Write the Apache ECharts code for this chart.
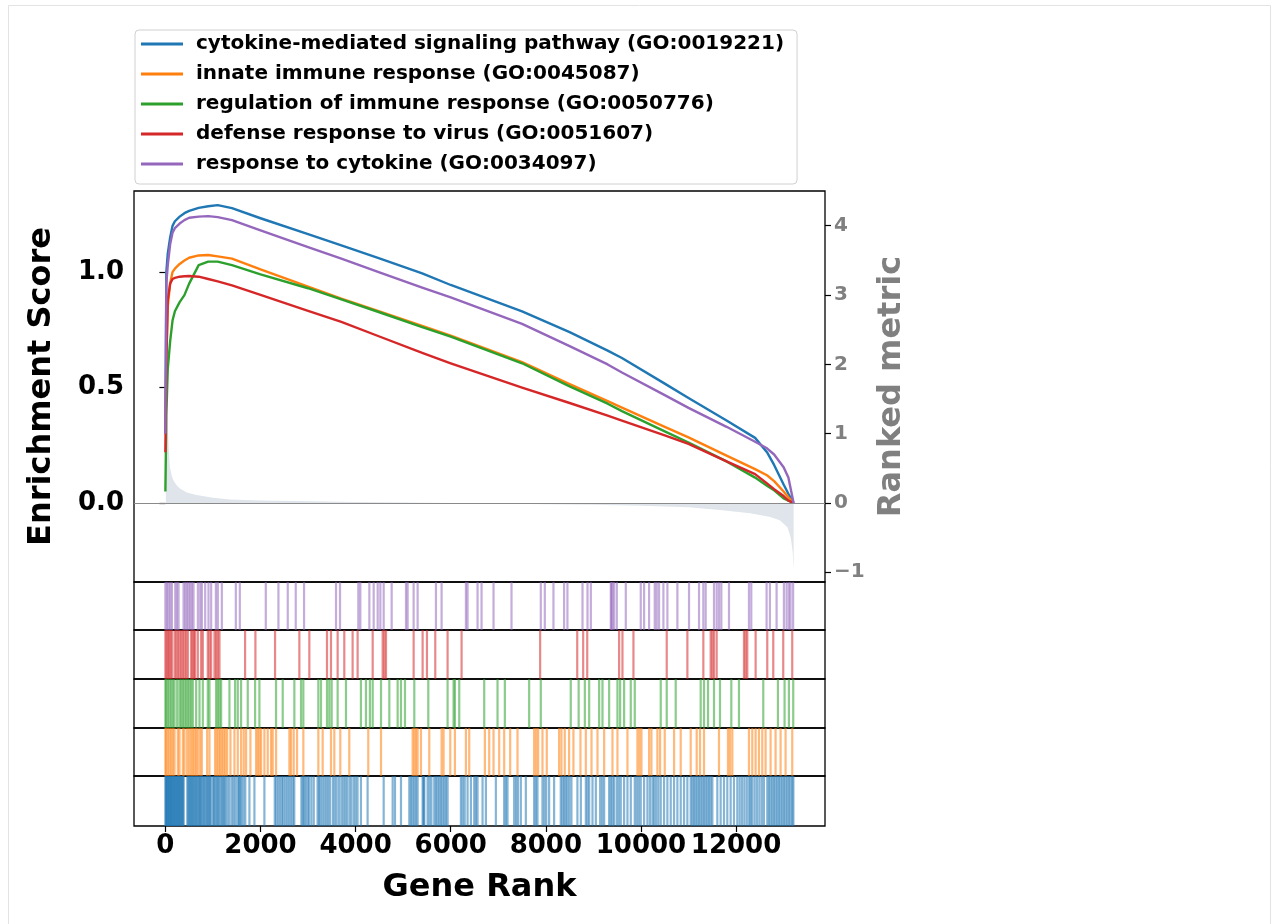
<!DOCTYPE html>
<html>
<head>
<meta charset="utf-8">
<script src="https://cdn.jsdelivr.net/npm/echarts@6/dist/echarts.min.js"></script>
<style>
  html, body { margin: 0; padding: 0; background: #fff; }
  #chart { width: 1275px; height: 924px; }
</style>
</head>
<body>
<div id="chart"></div>
<script>
// gene set names (legend order)
const termNames = [
  'cytokine-mediated signaling pathway (GO:0019221)',
  'innate immune response (GO:0045087)',
  'regulation of immune response (GO:0050776)',
  'defense response to virus (GO:0051607)',
  'response to cytokine (GO:0034097)'
];
const termColors = ['#1f77b4', '#ff7f0e', '#2ca02c', '#d62728', '#9467bd'];

// running enrichment score, sampled at these gene ranks
const esRanks = [0, 20, 50, 100, 150, 200, 300, 400, 500, 700, 900, 1100, 1400, 2000, 3000, 3700,
  4500, 5400, 6000, 7500, 8500, 9300, 9600, 10500, 11000, 11800, 12400, 12650, 12800, 13000, 13100, 13210];
const esCytokineSignaling = [0.3, 1.0, 1.08, 1.15, 1.2, 1.22, 1.24, 1.255, 1.265, 1.278, 1.285, 1.29, 1.277, 1.233, 1.164, 1.116,
  1.059, 0.994, 0.944, 0.83, 0.74, 0.66, 0.628, 0.517, 0.455, 0.357, 0.282, 0.22, 0.165, 0.08, 0.04, 0.0];
const esInnateImmune = [0.3, 0.65, 0.85, 0.95, 1.0, 1.015, 1.035, 1.05, 1.062, 1.072, 1.074, 1.068, 1.058, 1.012, 0.937, 0.885,
  0.83, 0.767, 0.725, 0.61, 0.515, 0.441, 0.413, 0.33, 0.284, 0.205, 0.147, 0.12, 0.095, 0.05, 0.025, 0.0];
const esRegulationImmune = [0.05, 0.38, 0.58, 0.7, 0.79, 0.83, 0.87, 0.9, 0.95, 1.03, 1.045, 1.045, 1.03, 0.99, 0.93, 0.882,
  0.826, 0.762, 0.72, 0.605, 0.505, 0.43, 0.398, 0.31, 0.262, 0.18, 0.11, 0.075, 0.055, 0.02, 0.01, 0.0];
const esDefenseVirus = [0.22, 0.6, 0.88, 0.95, 0.97, 0.975, 0.98, 0.982, 0.983, 0.98, 0.97, 0.96, 0.942, 0.901, 0.832, 0.784,
  0.721, 0.65, 0.605, 0.5, 0.433, 0.378, 0.357, 0.293, 0.256, 0.18, 0.125, 0.085, 0.06, 0.03, 0.01, 0.0];
const esResponseCytokine = [0.3, 0.95, 1.03, 1.12, 1.17, 1.19, 1.21, 1.225, 1.235, 1.24, 1.242, 1.238, 1.225, 1.18, 1.108, 1.058,
  0.999, 0.933, 0.89, 0.776, 0.679, 0.6, 0.565, 0.467, 0.412, 0.33, 0.265, 0.237, 0.21, 0.155, 0.11, 0.0];

// ranked metric
const metricRanks = [0, 10, 25, 45, 70, 95, 130, 165, 230, 305, 450, 655, 1000, 1355, 2000, 3000, 4000, 5000, 6000,
  7000, 8000, 9000, 10000, 11000, 11660, 12300, 12700, 12920, 13080, 13150, 13190, 13210];
const metricValues = [3.36, 2.6, 1.8, 1.2, 0.8, 0.52, 0.4, 0.33, 0.26, 0.21, 0.15, 0.115, 0.075, 0.05, 0.035, 0.025, 0.015, 0.008, 0.0,
  -0.008, -0.017, -0.027, -0.04, -0.06, -0.1, -0.15, -0.2, -0.25, -0.35, -0.5, -0.7, -0.97];

// hit positions (gene ranks) of each gene set
const hitsCytokineSignaling = [0, 10, 20, 35, 50, 62, 75, 90, 105, 118, 130, 145, 160, 175, 190, 205, 220, 235, 250, 265, 280, 295,
  310, 325, 340, 355, 370, 385, 460, 480, 500, 520, 540, 560, 580, 600, 625, 645, 665, 690, 710, 730, 750, 775, 800, 820, 845,
  870, 890, 915, 935, 960, 1000, 1025, 1050, 1080, 1100, 1130, 1160, 1190, 1220, 1240, 1270, 1310, 1350, 1400, 1440, 1480,
  1525, 1550, 1575, 1600, 1640, 1680, 1767, 1872, 2082, 2300, 2330, 2370, 2410, 2450, 2480, 2520, 2560, 2600, 2640, 2680,
  2710, 2860, 2890, 2920, 2950, 2990, 3020, 3070, 3120, 3200, 3230, 3260, 3300, 3340, 3380, 3420, 3460, 3520, 3560, 3600,
  3650, 3700, 3740, 3780, 3820, 3870, 3910, 3960, 4000, 4040, 4112, 4252, 4590, 4779, 4828, 4954, 5129, 5164, 5199, 5234,
  5269, 5304, 5409, 5430, 5444, 5514, 5554, 5594, 5654, 5689, 5724, 5759, 5794, 5829, 5864, 5899, 5934, 6214, 6254, 6294,
  6354, 6424, 6494, 6529, 6564, 6669, 6739, 6949, 7124, 7159, 7194, 7334, 7374, 7414, 7474, 7579, 7754, 7789, 7824, 7929,
  7969, 8009, 8069, 8174, 8314, 8349, 8384, 8419, 8454, 8494, 8538, 8664, 8736, 8841, 8876, 8911, 8981, 9051, 9142, 9184,
  9226, 9331, 9366, 9401, 9436, 9492, 9534, 9576, 9646, 9716, 9786, 9870, 9912, 9954, 9996, 10066, 10136, 10188, 10241,
  10276, 10320, 10366, 10416, 10486, 10556, 10626, 10696, 10766, 10836, 10906, 10976, 11046, 11081, 11116, 11151, 11186,
  11221, 11256, 11291, 11326, 11361, 11396, 11431, 11466, 11501, 11606, 11676, 11746, 11816, 11886, 11956, 12026, 12076,
  12126, 12176, 12226, 12276, 12306, 12341, 12391, 12441, 12491, 12541, 12586, 12656, 12691, 12726, 12761, 12796, 12831,
  12866, 12901, 12936, 12971, 13006, 13041, 13076, 13111, 13146, 13181, 13205];
const hitsInnateImmune = [0, 17, 52, 87, 122, 157, 192, 262, 297, 367, 402, 458, 500, 542, 577, 612, 647, 682, 731, 766, 878,
  927, 1046, 1081, 1116, 1151, 1186, 1221, 1256, 1298, 1368, 1452, 1522, 1592, 1648, 1697, 1788, 1907, 1942, 1977, 2012,
  2082, 2152, 2222, 2257, 2327, 2607, 2642, 2698, 2768, 2901, 3216, 3307, 3482, 3552, 3678, 3867, 4266, 4534, 5199, 5234,
  5269, 5304, 5374, 5549, 5808, 5850, 5990, 6088, 6319, 6389, 6718, 6809, 6900, 7019, 7124, 7250, 7404, 7754, 7796, 7838,
  7929, 8020, 8279, 8328, 8398, 8489, 8580, 8728, 8841, 8960, 9086, 9226, 9401, 9506, 9716, 9926, 9968, 10010, 10171,
  10220, 10346, 10402, 10500, 10696, 10836, 11046, 11172, 11242, 11326, 11641, 11830, 11872, 11921, 12271, 12341, 12411,
  12481, 12551, 12621, 12726, 12831, 12936, 13041, 13181];
const hitsRegulationImmune = [0, 17, 52, 87, 122, 157, 192, 248, 297, 332, 367, 402, 437, 472, 507, 542, 577, 647, 717, 787,
  892, 927, 1067, 1102, 1137, 1172, 1347, 1466, 1522, 1592, 1732, 1886, 1977, 2327, 2467, 2712, 2852, 2901, 3216, 3272,
  3398, 3447, 3496, 3622, 3797, 4112, 4217, 4300, 4359, 4534, 4709, 4884, 4954, 5038, 5234, 5528, 5934, 6060, 6088, 6179,
  6704, 6984, 7138, 7649, 7894, 8524, 8690, 8820, 8911, 9121, 9191, 9331, 9506, 9562, 9646, 9786, 9870, 10416, 10542,
  10731, 11256, 11326, 11410, 11536, 11662, 11900, 12061, 12572, 12880, 13020, 13111, 13202];
const hitsDefenseVirus = [0, 24, 52, 80, 108, 136, 192, 227, 262, 297, 332, 367, 402, 437, 472, 542, 570, 598, 626, 682, 752,
  787, 892, 927, 962, 1032, 1067, 1102, 1137, 1676, 1893, 2306, 2817, 3027, 3398, 3482, 3622, 3762, 3937, 4042, 4359, 4569,
  4604, 4639, 5220, 5409, 5500, 5675, 5934, 6228, 7880, 8660, 8785, 8870, 9541, 9611, 9842, 10542, 10976, 11312, 11466,
  11501, 11536, 11592, 12166, 12201, 12236, 12411, 12656, 12782, 12992, 13181];
const hitsResponseCytokine = [0, 32, 67, 102, 137, 207, 242, 277, 382, 417, 452, 487, 522, 557, 592, 683, 732, 767, 837, 907,
  963, 1061, 1103, 1187, 1481, 1565, 2111, 2377, 2573, 2741, 2916, 3588, 3672, 4057, 4099, 4289, 4380, 4464, 4520, 4590,
  4758, 5059, 5094, 5220, 5304, 5689, 5808, 6319, 6354, 6564, 6648, 6900, 7278, 7894, 7978, 8160, 8384, 8454, 8771, 8876,
  8946, 9366, 9380, 9401, 9436, 9492, 9681, 9996, 10066, 10171, 10290, 10332, 10381, 10472, 10556, 10766, 11011, 11221,
  11312, 11361, 11536, 11592, 11641, 11690, 11851, 12271, 12320, 12642, 12712, 12852, 13006, 13062, 13111, 13146, 13200];

const esTicks = [0, 0.5, 1.0];
const metricTicks = [-1, 0, 1, 2, 3, 4];
const rankTicks = [0, 2000, 4000, 6000, 8000, 10000, 12000];

const esSeries = [esCytokineSignaling, esInnateImmune, esRegulationImmune, esDefenseVirus, esResponseCytokine];
// strips from top to bottom
const stripHits = [hitsResponseCytokine, hitsDefenseVirus, hitsRegulationImmune, hitsInnateImmune, hitsCytokineSignaling];
const stripColors = ['#9467bd', '#d62728', '#2ca02c', '#ff7f0e', '#1f77b4'];

const FONT = 'DejaVu Sans';
const xMin = -660, xMax = 13870;
const plotLeft = 134, plotWidth = 691;
const stripTops = [582, 630, 679, 728, 776];
const stripHeights = [48, 49, 49, 48, 50];

const chart = echarts.init(document.getElementById('chart'));

const grids = [{ left: plotLeft, top: 191, width: plotWidth, height: 391, show: true, borderColor: '#000', borderWidth: 1.3 }];
stripTops.forEach((t, i) => grids.push({
  left: plotLeft, top: t, width: plotWidth, height: stripHeights[i], show: true, borderColor: '#000', borderWidth: 1.3
}));

const xAxes = [{ type: 'value', gridIndex: 0, min: xMin, max: xMax, show: false }];
stripTops.forEach((t, i) => {
  const last = i === stripTops.length - 1;
  xAxes.push({
    type: 'value', gridIndex: i + 1, min: xMin, max: xMax, show: last,
    axisLine: { show: false },
    axisTick: { show: true, customValues: rankTicks, length: 6, lineStyle: { color: '#000', width: 1.2 } },
    axisLabel: { customValues: rankTicks, formatter: v => String(v), hideOverlap: false, showMinLabel: true, showMaxLabel: true,
      fontSize: 26, fontWeight: 'bold', color: '#000', margin: 7, fontFamily: FONT },
    splitLine: { show: false },
    name: 'Gene Rank', nameLocation: 'middle', nameGap: 46,
    nameTextStyle: { fontSize: 32, fontWeight: 'bold', color: '#000', fontFamily: FONT }
  });
});

const yAxes = [
  {
    type: 'value', gridIndex: 0, position: 'left', min: -0.342, max: 1.351,
    axisLine: { show: false },
    axisTick: { show: true, customValues: esTicks, length: 6, lineStyle: { color: '#000', width: 1.2 } },
    axisLabel: { customValues: esTicks, formatter: v => v.toFixed(1), fontSize: 26, fontWeight: 'bold', color: '#000', margin: 10, fontFamily: FONT },
    splitLine: { show: false },
    name: 'Enrichment Score', nameLocation: 'middle', nameGap: 76, nameRotate: 90,
    nameTextStyle: { fontSize: 32, fontWeight: 'bold', color: '#000', fontFamily: FONT }
  },
  {
    type: 'value', gridIndex: 0, position: 'right', min: -1.14, max: 4.5,
    axisLine: { show: false },
    axisTick: { show: true, customValues: metricTicks, length: 6, lineStyle: { color: '#000', width: 1.2 } },
    axisLabel: { customValues: metricTicks, formatter: v => (v < 0 ? '\u2212' + Math.abs(v) : String(v)),
      fontSize: 20, fontWeight: 'bold', color: '#808080', margin: 9, fontFamily: FONT },
    splitLine: { show: false },
    name: 'Ranked metric', nameLocation: 'middle', nameGap: 48, nameRotate: 90,
    nameTextStyle: { fontSize: 32, fontWeight: 'bold', color: '#808080', fontFamily: FONT, verticalAlign: 'top' }
  }
];
stripTops.forEach((t, i) => yAxes.push({ type: 'value', gridIndex: i + 1, min: 0, max: 1, show: false }));

const series = [{
  type: 'line', xAxisIndex: 0, yAxisIndex: 1, silent: true, symbol: 'none', z: 1,
  data: metricRanks.map((r, i) => [r, metricValues[i]]),
  lineStyle: { width: 0 },
  areaStyle: { color: '#dfe5ea', opacity: 1 },
  markLine: {
    silent: true, symbol: 'none', label: { show: false },
    lineStyle: { color: '#8a8a8a', width: 1.2, type: 'solid' },
    data: [{ yAxis: 0 }]
  }
}];

termNames.forEach((name, k) => series.push({
  name: name, type: 'line', xAxisIndex: 0, yAxisIndex: 0, symbol: 'none', showSymbol: false, z: 3,
  data: esRanks.map((r, i) => [r, esSeries[k][i]]),
  lineStyle: { width: 2.4, color: termColors[k], join: 'round' },
  itemStyle: { color: termColors[k] }
}));

stripHits.forEach((hits, i) => series.push({
  type: 'custom', xAxisIndex: i + 1, yAxisIndex: i + 2, silent: true,
  data: hits.map(r => [r, 0]),
  encode: { x: 0, y: 1 },
  renderItem: (params, api) => {
    const top = api.coord([api.value(0), 1]);
    const bot = api.coord([api.value(0), 0]);
    return {
      type: 'line',
      shape: { x1: top[0], y1: top[1], x2: bot[0], y2: bot[1] },
      style: { stroke: stripColors[i], lineWidth: 2.2, opacity: 0.55 }
    };
  }
}));

chart.setOption({
  animation: false,
  textStyle: { fontFamily: FONT },
  graphic: [{
    type: 'rect', silent: true, z: -10,
    shape: { x: 8.5, y: 5.5, width: 1262, height: 940 },
    style: { fill: 'none', stroke: '#e3e3e3', lineWidth: 1 }
  }],
  legend: {
    data: termNames, orient: 'vertical', left: 135, top: 30,
    icon: 'rect', itemWidth: 42, itemHeight: 3, itemGap: 10,
    padding: [4, 13, 10, 6],
    borderColor: '#d0d0d0', borderWidth: 1, borderRadius: 4, backgroundColor: '#fff',
    textStyle: { fontSize: 20, lineHeight: 20, fontWeight: 'bold', color: '#000', fontFamily: FONT, padding: [0, 0, 0, 8] },
    selectedMode: false
  },
  grid: grids,
  xAxis: xAxes,
  yAxis: yAxes,
  series: series
});
</script>
</body>
</html>
